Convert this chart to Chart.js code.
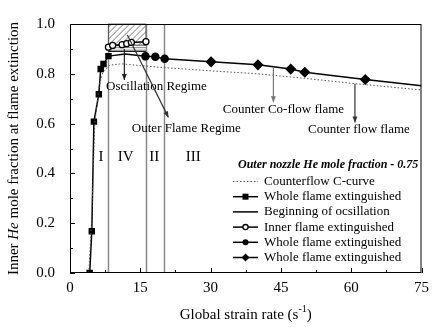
<!DOCTYPE html>
<html><head><meta charset="utf-8">
<script src="https://cdn.jsdelivr.net/npm/chart.js@4"></script>
<style>html,body{margin:0;padding:0;background:#fff}#c{display:block}</style>
</head><body>
<canvas id="c" width="435" height="327"></canvas>
<script>
// ---- data ----
const xTicks = [0, 15, 30, 45, 60, 75];
const yTicks = [0.0, 0.2, 0.4, 0.6, 0.8, 1.0];

const cCurveX = [4.0, 4.6, 5.3, 6.2, 7.0, 8.5, 11.0, 15.0, 20.0, 30.0, 40.0, 50.0, 60.0, 75.0];
const cCurveY = [0.0, 0.20, 0.60, 0.75, 0.805, 0.835, 0.840, 0.833, 0.825, 0.812, 0.800, 0.782, 0.762, 0.735];

const squareX = [4.2, 4.65, 5.1, 6.15, 6.55, 7.15, 8.2];
const squareY = [0.0, 0.168, 0.608, 0.718, 0.819, 0.839, 0.871];

const oscStartX = [8.2, 16.2];
const oscStartY = [0.89, 0.89];

const openX = [8.2, 9.1, 11.1, 12.1, 13.1, 16.2];
const openY = [0.907, 0.914, 0.917, 0.921, 0.926, 0.929];

const filledX = [8.2, 11.8, 16.1, 18.2, 20.2];
const filledY = [0.871, 0.879, 0.870, 0.868, 0.860];
const filledR = [0, 0, 3.5, 3.5, 3.5];

const diamondX = [20.2, 30.1, 40.1, 47.1, 50.1, 63.0, 75.0];
const diamondY = [0.860, 0.848, 0.836, 0.819, 0.806, 0.777, 0.752];
const diamondR = [0, 4.5, 4.5, 4.5, 4.5, 4.5, 0];

const regionBounds = [8.2, 16.2, 20.1];
const regionLabels = ['I', 'IV', 'II', 'III'];
const regionLabelX = [6.6, 11.9, 18.0, 26.3];
const regionLabelY = 0.465;

const oscBandX = [8.2, 16.2];
const hatchY = [0.915, 1.0];
const stripeY = [0.888, 0.915];

const notes = [
  {text: 'Oscillation Regime', x: 7.7, y: 0.75, ax: [11.6, 11.6], ay: [0.90, 0.775], color: '#222'},
  {text: 'Outer Flame Regime', x: 13.2, y: 0.582, ax: [12.25, 21.0], ay: [0.956, 0.625], color: '#333'},
  {text: 'Counter Co-flow flame', x: 32.6, y: 0.656, ax: [43.4, 43.4], ay: [0.825, 0.686], color: '#777'},
  {text: 'Counter flow flame', x: 50.8, y: 0.574, ax: [60.8, 60.8], ay: [0.760, 0.604], color: '#333'}
];

const legendTitle = 'Outer nozzle He mole fraction - 0.75';

const zip = (xs, ys) => xs.map((x, i) => ({x, y: ys[i]}));
const SERIF = '"Liberation Serif", "Times New Roman", serif';

const datasets = [
  {label: 'Counterflow C-curve', data: zip(cCurveX, cCurveY), borderColor: '#555', borderWidth: 1,
   borderDash: [1.5, 2], pointRadius: 0, showLine: true, lg: 'dot'},
  {label: 'Whole flame extinguished', data: zip(squareX, squareY), borderColor: '#000', backgroundColor: '#000',
   borderWidth: 1.5, pointStyle: 'rect', pointRadius: 3.5, showLine: true, lg: 'rect'},
  {label: 'Beginning of ocsillation', data: zip(oscStartX, oscStartY), borderColor: '#000', borderWidth: 1,
   pointRadius: 0, showLine: true, lg: 'line'},
  {label: 'Inner flame extinguished', data: zip(openX, openY), borderColor: '#000', backgroundColor: '#fff',
   borderWidth: 1.5, pointStyle: 'circle', pointRadius: 3, pointBorderWidth: 1.3, showLine: true, lg: 'open'},
  {label: 'Whole flame extinguished', data: zip(filledX, filledY), borderColor: '#000', backgroundColor: '#000',
   borderWidth: 1.5, pointStyle: 'circle', pointRadius: filledR, showLine: true, lg: 'circle'},
  {label: 'Whole flame extinguished', data: zip(diamondX, diamondY), borderColor: '#000', backgroundColor: '#000',
   borderWidth: 1.5, pointStyle: 'rectRot', pointRadius: diamondR, showLine: true, lg: 'diamond'}
];

const decor = {
  id: 'decor',
  beforeDatasetsDraw(chart) {
    const {ctx, chartArea: a, scales: {x, y}} = chart;
    ctx.save();
    // region boundary lines
    ctx.strokeStyle = '#8a8a8a'; ctx.lineWidth = 1.5;
    regionBounds.forEach(v => {
      const px = Math.round(x.getPixelForValue(v)) + 0.5;
      ctx.beginPath(); ctx.moveTo(px, a.top); ctx.lineTo(px, a.bottom); ctx.stroke();
    });
    // hatched band
    const x0 = x.getPixelForValue(oscBandX[0]), x1 = x.getPixelForValue(oscBandX[1]);
    const hy0 = y.getPixelForValue(hatchY[1]), hy1 = y.getPixelForValue(hatchY[0]);
    ctx.save();
    ctx.beginPath(); ctx.rect(x0, hy0, x1 - x0, hy1 - hy0); ctx.clip();
    ctx.strokeStyle = '#555'; ctx.lineWidth = 0.8;
    for (let k = -60; k < 100; k += 6) {
      ctx.beginPath(); ctx.moveTo(x0 + k, hy1); ctx.lineTo(x0 + k + (hy1 - hy0), hy0); ctx.stroke();
    }
    ctx.restore();
    ctx.strokeStyle = '#555'; ctx.lineWidth = 0.8;
    ctx.strokeRect(x0, hy0, x1 - x0, hy1 - hy0);
    const sy0 = y.getPixelForValue(stripeY[1]), sy1 = y.getPixelForValue(stripeY[0]);
    ctx.strokeStyle = '#666'; ctx.lineWidth = 0.8;
    for (let py = sy0; py <= sy1; py += 2.5) {
      ctx.beginPath(); ctx.moveTo(x0, py); ctx.lineTo(x1, py); ctx.stroke();
    }
    ctx.restore();
  },
  afterDatasetsDraw(chart) {
    const {ctx, chartArea: a, scales: {x, y}} = chart;
    ctx.save();
    // frame
    ctx.strokeStyle = '#000'; ctx.lineWidth = 1;
    ctx.strokeRect(a.left + 0.5, a.top + 0.5, a.right - a.left - 1, a.bottom - a.top - 1);
    // inward ticks
    ctx.beginPath();
    for (let v = 0; v <= 75.01; v += 7.5) {
      const px = Math.round(x.getPixelForValue(v)) + 0.5;
      const L = (Math.round(v / 7.5) % 2 === 0) ? 5 : 3;
      ctx.moveTo(px, a.bottom); ctx.lineTo(px, a.bottom - L);
    }
    for (let v = 0; v <= 1.001; v += 0.1) {
      const py = Math.round(y.getPixelForValue(v)) + 0.5;
      const L = (Math.round(v * 10) % 2 === 0) ? 5 : 3;
      ctx.moveTo(a.left, py); ctx.lineTo(a.left + L, py);
    }
    ctx.stroke();
    // region labels
    ctx.fillStyle = '#000'; ctx.font = '15px ' + SERIF;
    ctx.textAlign = 'center'; ctx.textBaseline = 'middle';
    regionLabels.forEach((t, i) => ctx.fillText(t, x.getPixelForValue(regionLabelX[i]), y.getPixelForValue(regionLabelY)));
    // annotations with arrows
    ctx.font = '13px ' + SERIF; ctx.textAlign = 'left';
    notes.forEach(n => {
      ctx.fillStyle = '#000';
      ctx.fillText(n.text, x.getPixelForValue(n.x), y.getPixelForValue(n.y));
      const sx = x.getPixelForValue(n.ax[0]), sy = y.getPixelForValue(n.ay[0]);
      const ex = x.getPixelForValue(n.ax[1]), ey = y.getPixelForValue(n.ay[1]);
      ctx.strokeStyle = n.color; ctx.fillStyle = n.color; ctx.lineWidth = 1.2;
      ctx.beginPath(); ctx.moveTo(sx, sy); ctx.lineTo(ex, ey); ctx.stroke();
      const ang = Math.atan2(ey - sy, ex - sx), h = 6, w = 2.5;
      ctx.beginPath();
      ctx.moveTo(ex, ey);
      ctx.lineTo(ex - h * Math.cos(ang) + w * Math.sin(ang), ey - h * Math.sin(ang) - w * Math.cos(ang));
      ctx.lineTo(ex - h * Math.cos(ang) - w * Math.sin(ang), ey - h * Math.sin(ang) + w * Math.cos(ang));
      ctx.closePath(); ctx.fill();
    });
    // legend
    ctx.fillStyle = '#000';
    ctx.font = 'italic bold 12px ' + SERIF; ctx.textAlign = 'left';
    ctx.fillText(legendTitle, 238, 165);
    ctx.font = '13px ' + SERIF;
    chart.data.datasets.forEach((d, i) => {
      const ry = 181.5 + i * 15.2;
      const lx0 = 233, lx1 = 258, cx = (lx0 + lx1) / 2;
      ctx.save();
      ctx.strokeStyle = d.lg === 'dot' ? '#555' : '#000';
      ctx.lineWidth = d.lg === 'dot' ? 1 : 1.5;
      if (d.lg === 'dot') ctx.setLineDash([1.5, 2]);
      ctx.beginPath(); ctx.moveTo(lx0, ry); ctx.lineTo(lx1, ry); ctx.stroke();
      ctx.restore();
      ctx.fillStyle = '#000'; ctx.strokeStyle = '#000'; ctx.lineWidth = 1.3;
      if (d.lg === 'rect') ctx.fillRect(cx - 3, ry - 3, 6, 6);
      if (d.lg === 'circle') { ctx.beginPath(); ctx.arc(cx, ry, 3, 0, 2 * Math.PI); ctx.fill(); }
      if (d.lg === 'open') { ctx.beginPath(); ctx.arc(cx, ry, 2.6, 0, 2 * Math.PI); ctx.fillStyle = '#fff'; ctx.fill(); ctx.stroke(); }
      if (d.lg === 'diamond') { ctx.beginPath(); ctx.moveTo(cx, ry - 4); ctx.lineTo(cx + 4, ry); ctx.lineTo(cx, ry + 4); ctx.lineTo(cx - 4, ry); ctx.closePath(); ctx.fill(); }
      ctx.fillStyle = '#000';
      ctx.fillText(d.label, 264, ry);
    });
    // axis titles
    ctx.font = '15px ' + SERIF; ctx.textBaseline = 'middle';
    const xt = [['Global strain rate (s', '15px'], ['-1', '10px', -6], [')', '15px']];
    let tw = 0;
    xt.forEach(p => { ctx.font = p[1] + ' ' + SERIF; tw += ctx.measureText(p[0]).width; });
    let cxp = (a.left + a.right) / 2 - tw / 2;
    xt.forEach(p => { ctx.font = p[1] + ' ' + SERIF; ctx.fillText(p[0], cxp, 315 + (p[2] || 0)); cxp += ctx.measureText(p[0]).width; });
    const yt = [['Inner ', ''], ['He', 'italic '], [' mole fraction at flame extinction', '']];
    ctx.save();
    ctx.translate(14, (a.top + a.bottom) / 2);
    ctx.rotate(-Math.PI / 2);
    tw = 0;
    yt.forEach(p => { ctx.font = p[1] + '15px ' + SERIF; tw += ctx.measureText(p[0]).width; });
    let p0 = -tw / 2;
    yt.forEach(p => { ctx.font = p[1] + '15px ' + SERIF; ctx.fillText(p[0], p0, 0); p0 += ctx.measureText(p[0]).width; });
    ctx.restore();
    ctx.restore();
  }
};

new Chart(document.getElementById('c'), {
  type: 'scatter',
  data: {datasets},
  options: {
    responsive: false, animation: false, devicePixelRatio: 1,
    layout: {padding: {top: 17, right: 8, left: 0, bottom: 0}},
    plugins: {legend: {display: false}, tooltip: {enabled: false}},
    scales: {
      x: {
        type: 'linear', min: 0, max: 75,
        afterBuildTicks: s => { s.ticks = xTicks.map(v => ({value: v})); },
        afterFit: s => { s.height = 54; },
        grid: {display: false, drawTicks: false}, border: {display: false},
        ticks: {padding: 6, color: '#000', font: {family: SERIF, size: 15}, maxRotation: 0,
                callback: v => String(v)}
      },
      y: {
        type: 'linear', min: 0, max: 1,
        afterBuildTicks: s => { s.ticks = yTicks.map(v => ({value: v})); },
        afterFit: s => { s.width = 70; },
        grid: {display: false, drawTicks: false}, border: {display: false},
        ticks: {padding: 15, color: '#000', font: {family: SERIF, size: 15},
                callback: v => Number(v).toFixed(1)}
      }
    }
  },
  plugins: [decor]
});
</script>
</body></html>
